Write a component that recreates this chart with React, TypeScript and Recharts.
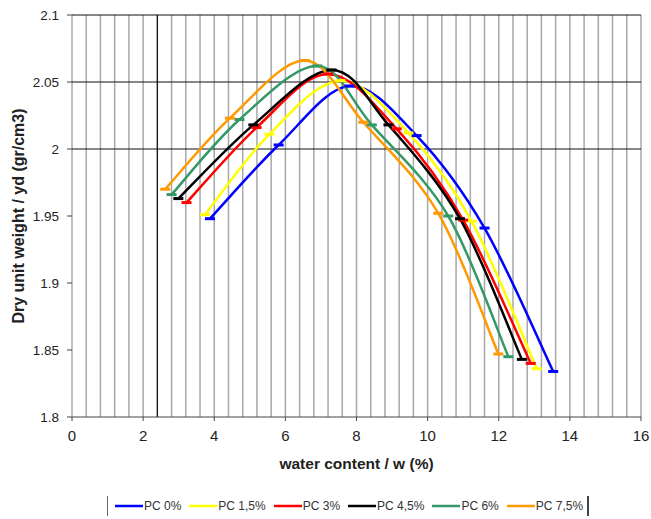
import { LineChart, Line, XAxis, YAxis, CartesianGrid, Legend } from 'recharts';

// PC 0% ... PC 7.5% compaction curves
const w0 = [3.88, 5.81, 7.8, 9.69, 11.6, 13.53];
const yd0 = [1.948, 2.003, 2.047, 2.01, 1.941, 1.834];
const w15 = [3.74, 5.55, 7.55, 9.46, 11.24, 13.07];
const yd15 = [1.951, 2.011, 2.051, 2.012, 1.946, 1.836];
const w3 = [3.22, 5.19, 7.2, 9.13, 11.0, 12.9];
const yd3 = [1.96, 2.016, 2.056, 2.015, 1.947, 1.84];
const w45 = [2.99, 5.1, 7.3, 8.9, 10.91, 12.65];
const yd45 = [1.963, 2.018, 2.059, 2.018, 1.948, 1.843];
const w6 = [2.8, 4.71, 6.9, 8.43, 10.58, 12.27];
const yd6 = [1.966, 2.022, 2.062, 2.018, 1.95, 1.845];
const w75 = [2.62, 4.44, 6.55, 8.19, 10.3, 11.99];
const yd75 = [1.97, 2.023, 2.066, 2.02, 1.952, 1.847];

const names = ['PC 0%', 'PC 1,5%', 'PC 3%', 'PC 4,5%', 'PC 6%', 'PC 7,5%'];
const colors = ['#0000ff', '#ffff00', '#ff0000', '#000000', '#339966', '#ff9900'];

const xTicks = [0, 2, 4, 6, 8, 10, 12, 14, 16];
const yTicks = [1.8, 1.85, 1.9, 1.95, 2, 2.05, 2.1];
const xMax = 16;
const gridW = Array.from({ length: 41 }, (_, i) => Math.round(i * 0.4 * 10) / 10);
const darkY = [2, 2.05, 2.1];
const darkX = [2.4];

const series = [
  [w0, yd0], [w15, yd15], [w3, yd3], [w45, yd45], [w6, yd6], [w75, yd75],
].map(([ws, ys], i) => ({
  name: names[i],
  color: colors[i],
  data: ws.map((w, j) => ({ w, yd: ys[j] })),
}));

const font = 'Arial, "Liberation Sans", sans-serif';

// Excel-like smoothed line (Catmull-Rom through the points)
function smoothCurve(context: any) {
  let pts: [number, number][] = [];
  return {
    areaStart() {},
    areaEnd() {},
    lineStart() {
      pts = [];
    },
    lineEnd() {
      if (!pts.length) return;
      context.moveTo(pts[0][0], pts[0][1]);
      for (let i = 0; i < pts.length - 1; i++) {
        const p0 = pts[i - 1] || pts[i];
        const p1 = pts[i];
        const p2 = pts[i + 1];
        const p3 = pts[i + 2] || p2;
        context.bezierCurveTo(
          p1[0] + (p2[0] - p0[0]) / 6, p1[1] + (p2[1] - p0[1]) / 6,
          p2[0] - (p3[0] - p1[0]) / 6, p2[1] - (p3[1] - p1[1]) / 6,
          p2[0], p2[1],
        );
      }
    },
    point(x: number, y: number) {
      pts.push([+x, +y]);
    },
  };
}

function DashDot(props: any) {
  const { cx, cy, stroke, index } = props;
  if (cx == null || cy == null) return null;
  return <rect key={`d${index}`} x={cx - 5} y={cy - 1.5} width={10} height={3} fill={stroke} />;
}

function LegendBox() {
  return (
    <div style={{ display: 'flex', alignItems: 'center', fontFamily: font, fontSize: 12, color: '#333', paddingLeft: 107 }}>
      <div style={{ display: 'flex', alignItems: 'center', borderLeft: '1.5px solid #666', borderRight: '2px solid #444', padding: '2px 4px 2px 7px', height: 16 }}>
        {series.map((s, i) => (
          <span key={s.name} style={{ display: 'flex', alignItems: 'center', marginRight: i === series.length - 1 ? 0 : 8 }}>
            <svg width={28} height={4} style={{ display: 'block' }}>
              <line x1={0} y1={2} x2={28} y2={2} stroke={s.color} strokeWidth={2.5} />
            </svg>
            <span style={{ marginLeft: 1 }}>{s.name}</span>
          </span>
        ))}
      </div>
    </div>
  );
}

export default function App() {
  return (
    <div style={{ position: 'absolute', left: 0, top: 0, width: 651, height: 519, background: '#fff' }}>
      <LineChart width={651} height={519} margin={{ top: 15, right: 10, left: 0, bottom: 72 }}>
        <CartesianGrid
          horizontal={false}
          verticalCoordinatesGenerator={({ offset }: any) => gridW.map((v) => offset.left + (offset.width * v) / xMax)}
          stroke="#a8a8a8"
          strokeWidth={1.5}
        />
        <CartesianGrid horizontalValues={darkY} verticalValues={darkX} stroke="#111" strokeWidth={1.2} />
        <XAxis
          dataKey="w"
          type="number"
          domain={[0, xMax]}
          ticks={xTicks}
          interval={0}
          allowDuplicatedCategory={false}
          height={30}
          stroke="#444"
          tickSize={4}
          tickMargin={9}
          tick={{ fontSize: 15, fill: '#222', fontFamily: font }}
          label={{ value: 'water content / w (%)', position: 'bottom', offset: 11, style: { fontSize: 15.5, fontWeight: 'bold', fill: '#222', fontFamily: font } }}
        />
        <YAxis
          type="number"
          domain={[1.8, 2.1]}
          ticks={yTicks}
          interval={0}
          width={72}
          axisLine={false}
          stroke="#444"
          tickSize={5}
          tickMargin={8}
          tick={{ fontSize: 13.5, fill: '#222', fontFamily: font }}
          label={{ value: 'Dry unit weight / yd (gr/cm3)', angle: -90, position: 'insideLeft', offset: 18, style: { textAnchor: 'middle', fontSize: 16, fontWeight: 'bold', fill: '#222', fontFamily: font } }}
        />
        <Legend layout="horizontal" verticalAlign="middle" content={<LegendBox />} wrapperStyle={{ top: 496, left: 0, width: 651, bottom: 'auto' }} />
        {series.map((s) => (
          <Line
            key={s.name}
            data={s.data}
            dataKey="yd"
            name={s.name}
            type={smoothCurve as any}
            stroke={s.color}
            strokeWidth={2.5}
            dot={<DashDot />}
            activeDot={false}
            isAnimationActive={false}
          />
        ))}
      </LineChart>
    </div>
  );
}
